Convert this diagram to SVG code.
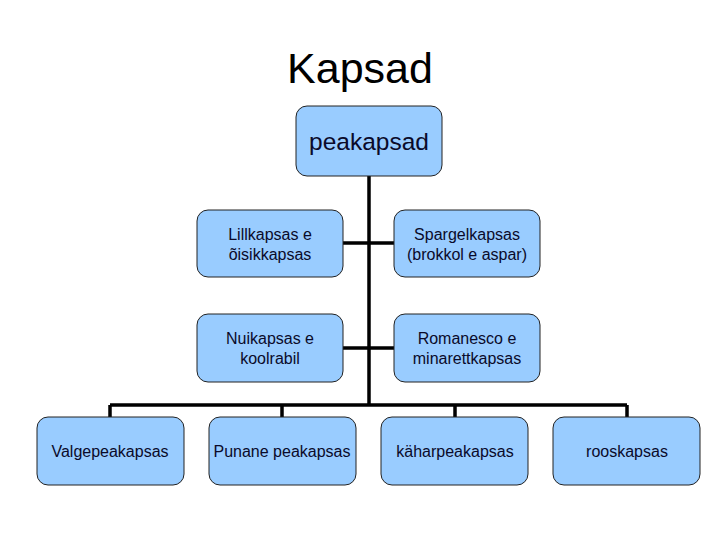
<svg xmlns="http://www.w3.org/2000/svg" width="720" height="540" viewBox="0 0 720 540">
<style>
.box{fill:#99CCFF;stroke:#222;stroke-width:1}
.t{font-family:"Liberation Sans",Arial,sans-serif;font-size:16px;fill:#0a0a2a;text-anchor:middle}
.c{stroke:#000;stroke-width:3.5;fill:none}
</style>
<rect width="720" height="540" fill="#fff"/>
<text x="360" y="83" style="font-family:'Liberation Sans',Arial,sans-serif;font-size:43px;text-anchor:middle">Kapsad</text>
<g id="connectors">
<path class="c" d="M369 176V405M343 243H394M343 348H394M110 405H627M110 405V417M282 405V417M455 405V417M627 405V417"/>
</g>
<g id="root"><rect class="box" x="296" y="106" width="146" height="70" rx="11"/><text class="t" x="369" y="150" style="font-size:24.5px">peakapsad</text></g>
<g id="n1"><rect class="box" x="197" y="210" width="146" height="67" rx="11"/><text class="t" x="270" y="240">Lillkapsas e</text><text class="t" x="270" y="260">õisikkapsas</text></g>
<g id="n2"><rect class="box" x="394" y="210" width="146" height="67" rx="11"/><text class="t" x="467" y="240">Spargelkapsas</text><text class="t" x="467" y="260">(brokkol e aspar)</text></g>
<g id="n3"><rect class="box" x="197" y="314" width="146" height="68" rx="11"/><text class="t" x="270" y="344">Nuikapsas e</text><text class="t" x="270" y="364">koolrabil</text></g>
<g id="n4"><rect class="box" x="394" y="314" width="146" height="68" rx="11"/><text class="t" x="467" y="344">Romanesco e</text><text class="t" x="467" y="364">minarettkapsas</text></g>
<g id="b1"><rect class="box" x="37" y="417" width="147" height="68" rx="11"/><text class="t" x="110" y="457">Valgepeakapsas</text></g>
<g id="b2"><rect class="box" x="209" y="417" width="147" height="68" rx="11"/><text class="t" x="282" y="457">Punane peakapsas</text></g>
<g id="b3"><rect class="box" x="381" y="417" width="147" height="68" rx="11"/><text class="t" x="455" y="457">käharpeakapsas</text></g>
<g id="b4"><rect class="box" x="553" y="417" width="147" height="68" rx="11"/><text class="t" x="627" y="457">rooskapsas</text></g>
</svg>
